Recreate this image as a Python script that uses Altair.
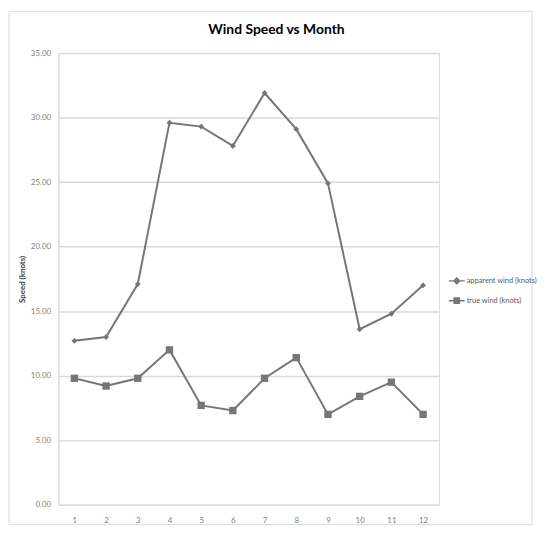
import altair as alt
import pandas as pd

months = list(range(1, 13))
apparent = [12.7, 13.0, 17.1, 29.6, 29.3, 27.8, 31.9, 29.1, 24.9, 13.6, 14.8, 17.0]
true_wind = [9.8, 9.2, 9.8, 12.0, 7.7, 7.3, 9.8, 11.4, 7.0, 8.4, 9.5, 7.0]
series_names = ["apparent wind (knots)", "true wind (knots)"]
title_text = "Wind Speed vs Month"

rows = []
for m, a, t in zip(months, apparent, true_wind):
    rows.append({"month": m, "speed": a, "series": series_names[0]})
    rows.append({"month": m, "speed": t, "series": series_names[1]})
df = pd.DataFrame(rows)

GRAY = "#767676"
FONT = "Lato"

x = alt.X("month:O", scale=alt.Scale(type="point", padding=0.5),
          axis=alt.Axis(title=None, labelAngle=0, ticks=False, domain=False,
                        labelPadding=12, labelFontSize=8, labelColor="#7f7f7f",
                        labelFont=FONT))
y = alt.Y("speed:Q", scale=alt.Scale(domain=[0, 35], nice=False),
          axis=alt.Axis(title="Speed (knots)", values=[0, 5, 10, 15, 20, 25, 30, 35],
                        format=".2f", ticks=False, domain=True, domainColor="#d9d9d9",
                        gridColor="#d9d9d9", gridWidth=1.5, labelPadding=8,
                        labelFontSize=8, labelColor="#7f7f7f", labelFont=FONT,
                        titleFont=FONT, titleFontSize=8, titleFontWeight="bold",
                        titleColor="#404040", titlePadding=4))

legend_shape = ("datum.value === 'apparent wind (knots)' ? "
                "'M-1,0L1,0M0,-0.35L0.35,0L0,0.35L-0.35,0Z' : "
                "'M-1,0L1,0M-0.33,-0.33L0.33,-0.33L0.33,0.33L-0.33,0.33Z'")

color = alt.Color("series:N",
                  scale=alt.Scale(domain=series_names, range=[GRAY, GRAY]),
                  legend=alt.Legend(title=None, orient="none", legendX=393, legendY=221,
                                    symbolSize=256, labelFontSize=7.5, labelFont=FONT,
                                    labelColor="#595959", rowPadding=5, labelOffset=1,
                                    labelLimit=200,
                                    symbolType=alt.ExprRef(expr=legend_shape),
                                    symbolFillColor=GRAY, symbolStrokeColor=GRAY,
                                    symbolStrokeWidth=1.5))

lines = alt.Chart(df).mark_line(strokeWidth=2).encode(x=x, y=y, color=color)

pts_app = alt.Chart(df).transform_filter(
    alt.datum.series == series_names[0]
).mark_point(filled=True, opacity=1, color=GRAY, shape="diamond", size=35).encode(x=x, y=y)

pts_true = alt.Chart(df).transform_filter(
    alt.datum.series == series_names[1]
).mark_point(filled=True, opacity=1, color=GRAY, shape="square", size=55).encode(x=x, y=y)

frame = alt.Chart(alt.Data(values=[{"f": 1}])).mark_rect(
    fill=None, stroke="#d9d9d9", strokeWidth=1).encode(
    x=alt.value(-50), x2=alt.value(478), y=alt.value(-42), y2=alt.value(476))

title = alt.Chart(alt.Data(values=[{"t": title_text}])).mark_text(
    font=FONT, fontSize=14, fontWeight="bold", color="#000000",
    align="center", baseline="alphabetic").encode(
    text="t:N", x=alt.value(220), y=alt.value(-19))

chart = alt.layer(frame, title, lines, pts_app, pts_true).properties(
    width=384, height=456,
    padding=0,
).configure_view(stroke=None).configure(background="white")

chart.save("out.html", embed_options={"renderer": "svg", "actions": False})
